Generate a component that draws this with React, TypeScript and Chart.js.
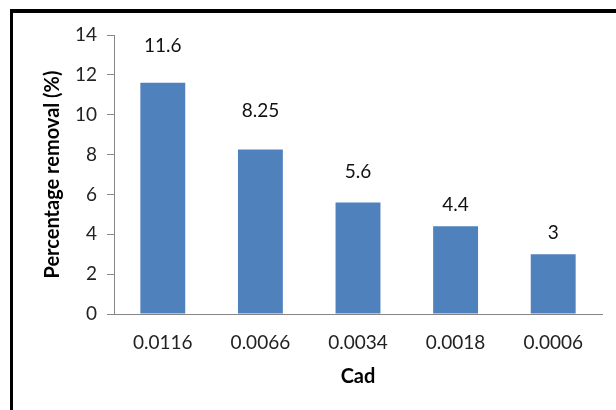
import React, { useEffect, useRef } from "react";
import { Chart, registerables } from "chart.js";

Chart.register(...registerables);

const categories = ["0.0116", "0.0066", "0.0034", "0.0018", "0.0006"];
const removal = [11.6, 8.25, 5.6, 4.4, 3];
const valueLabels = ["11.6", "8.25", "5.6", "4.4", "3"];
const yTitle = "Percentage removal (%)";
const xTitle = "Cad";

// distance (px) each value label sits above its bar top, as placed in the reference
const labelLift = [37, 39, 31, 21, 21];

const FONT = "Lato, 'Open Sans', sans-serif";

const labelPlugin = {
  id: "valueLabels",
  afterDatasetsDraw(chart: any) {
    const ctx = chart.ctx;
    const meta = chart.getDatasetMeta(0);
    ctx.save();
    ctx.font = `19px ${FONT}`;
    ctx.fillStyle = "#111";
    ctx.textAlign = "center";
    ctx.textBaseline = "middle";
    meta.data.forEach((bar: any, i: number) => {
      ctx.fillText(valueLabels[i], bar.x, bar.y - labelLift[i]);
    });
    ctx.restore();
  },
};

export default function App() {
  const ref = useRef<HTMLCanvasElement>(null);
  useEffect(() => {
    if (!ref.current) return;
    const chart = new Chart(ref.current, {
      type: "bar",
      data: {
        labels: categories,
        datasets: [
          {
            data: removal,
            backgroundColor: "#4F81BD",
            categoryPercentage: 1,
            barPercentage: 0.46,
          },
        ],
      },
      options: {
        animation: false,
        responsive: false,
        maintainAspectRatio: false,
        layout: { padding: { left: 37, right: 14, top: 35, bottom: 17 } },
        plugins: { legend: { display: false }, tooltip: { enabled: false } },
        scales: {
          x: {
            grid: { display: false, drawTicks: false },
            border: { display: true, color: "#868686", width: 1 },
            ticks: { color: "#222", font: { family: FONT, size: 19 }, padding: 17 },
            title: {
              display: true,
              text: xTitle,
              color: "#000",
              font: { family: FONT, size: 20, weight: "bold" },
            },
            afterFit(scale: any) {
              scale.height = 79;
            },
          },
          y: {
            min: 0,
            max: 14,
            grid: {
              display: true,
              drawOnChartArea: false,
              drawTicks: true,
              tickLength: 7,
              color: "#868686",
            },
            border: { display: true, color: "#868686", width: 1 },
            ticks: {
              stepSize: 2,
              color: "#222",
              font: { family: FONT, size: 19 },
              padding: 10,
            },
            title: {
              display: true,
              text: yTitle,
              color: "#000",
              font: { family: FONT, size: 20, weight: "bold" },
            },
            afterFit(scale: any) {
              scale.width = 77;
            },
          },
        },
      },
      plugins: [labelPlugin],
    });
    return () => chart.destroy();
  }, []);

  return (
    <div style={{ position: "fixed", left: 0, top: 0, width: 616, height: 410, background: "#fff", overflow: "hidden" }}>
      <div
        style={{
          position: "absolute",
          left: 10,
          top: 9,
          width: 640,
          height: 440,
          borderTop: "4px solid #000",
          borderLeft: "3px solid #000",
          boxSizing: "border-box",
        }}
      />
      <canvas ref={ref} width={616} height={410} style={{ position: "absolute", left: 0, top: 0 }} />
    </div>
  );
}
